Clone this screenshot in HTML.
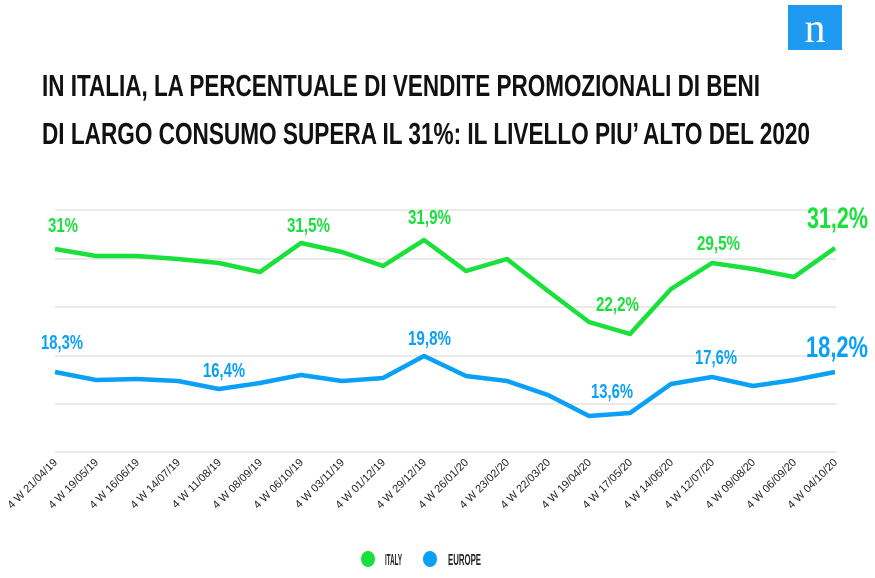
<!DOCTYPE html>
<html><head><meta charset="utf-8"><style>
html,body{margin:0;padding:0;background:#fff;}
svg{display:block;}
.t{font-family:"Liberation Sans Narrow","Liberation Sans",sans-serif;font-weight:bold;}
</style></head><body>
<svg width="875" height="578" viewBox="0 0 875 578" xmlns="http://www.w3.org/2000/svg">
<rect x="788" y="5" width="54" height="45" fill="#1e9bf0"/>
<text x="815" y="42" text-anchor="middle" font-family="Liberation Serif,serif" font-size="42" fill="#fff">n</text>
<text class="t" x="42" y="96" font-size="31" textLength="718" lengthAdjust="spacingAndGlyphs" fill="#111">IN ITALIA, LA PERCENTUALE DI VENDITE PROMOZIONALI DI BENI</text>
<text class="t" x="42" y="144" font-size="31" textLength="768" lengthAdjust="spacingAndGlyphs" fill="#111">DI LARGO CONSUMO SUPERA IL 31%: IL LIVELLO PIU’ ALTO DEL 2020</text>
<g stroke="#ddd" stroke-width="1.3">
<line x1="55" x2="836" y1="210" y2="210"/><line x1="55" x2="836" y1="259" y2="259"/>
<line x1="55" x2="836" y1="307" y2="307"/><line x1="55" x2="836" y1="356" y2="356"/>
<line x1="55" x2="836" y1="404" y2="404"/><line x1="55" x2="836" y1="452" y2="452"/>
</g>
<polyline fill="none" stroke="#19e03a" stroke-width="4.5" stroke-linejoin="round" points="55,249 96,256 137,256 178,259 219,263 260,272 301,243 342,252 383,266 424,240 466,271 507,259 548,291 589,322 630,334 671,289 712,263 753,269 794,277 835,248"/>
<polyline fill="none" stroke="#0aa0f5" stroke-width="4.5" stroke-linejoin="round" points="55,372 96,380 137,379 178,381 219,389 260,383 301,375 342,381 383,378 424,356 466,376 507,381 548,395 589,416 630,413 671,384 712,377 753,386 794,380 835,372"/>
<g class="t" fill="#19e03a" font-size="20">
<text x="48" y="232" textLength="30" lengthAdjust="spacingAndGlyphs">31%</text>
<text x="287" y="232" textLength="43" lengthAdjust="spacingAndGlyphs">31,5%</text>
<text x="408" y="224" textLength="43" lengthAdjust="spacingAndGlyphs">31,9%</text>
<text x="596" y="311" textLength="43" lengthAdjust="spacingAndGlyphs">22,2%</text>
<text x="697" y="250" textLength="43" lengthAdjust="spacingAndGlyphs">29,5%</text>
<text x="807" y="228" font-size="30" textLength="61" lengthAdjust="spacingAndGlyphs">31,2%</text></g>
<g class="t" fill="#0aa0f5" font-size="20">
<text x="41" y="349" textLength="42" lengthAdjust="spacingAndGlyphs">18,3%</text>
<text x="203" y="377" textLength="42" lengthAdjust="spacingAndGlyphs">16,4%</text>
<text x="408" y="345" textLength="43" lengthAdjust="spacingAndGlyphs">19,8%</text>
<text x="591" y="398" textLength="42" lengthAdjust="spacingAndGlyphs">13,6%</text>
<text x="695" y="364" textLength="42" lengthAdjust="spacingAndGlyphs">17,6%</text>
<text x="806" y="357" font-size="30" textLength="62" lengthAdjust="spacingAndGlyphs">18,2%</text></g>
<g font-family="Liberation Sans,sans-serif" font-size="11" fill="#222" text-anchor="end">
<text transform="translate(58,463) rotate(-45)">4 W 21/04/19</text>
<text transform="translate(99,463) rotate(-45)">4 W 19/05/19</text>
<text transform="translate(140,463) rotate(-45)">4 W 16/06/19</text>
<text transform="translate(181,463) rotate(-45)">4 W 14/07/19</text>
<text transform="translate(222,463) rotate(-45)">4 W 11/08/19</text>
<text transform="translate(263,463) rotate(-45)">4 W 08/09/19</text>
<text transform="translate(304,463) rotate(-45)">4 W 06/10/19</text>
<text transform="translate(345,463) rotate(-45)">4 W 03/11/19</text>
<text transform="translate(386,463) rotate(-45)">4 W 01/12/19</text>
<text transform="translate(427,463) rotate(-45)">4 W 29/12/19</text>
<text transform="translate(469,463) rotate(-45)">4 W 26/01/20</text>
<text transform="translate(510,463) rotate(-45)">4 W 23/02/20</text>
<text transform="translate(551,463) rotate(-45)">4 W 22/03/20</text>
<text transform="translate(592,463) rotate(-45)">4 W 19/04/20</text>
<text transform="translate(633,463) rotate(-45)">4 W 17/05/20</text>
<text transform="translate(674,463) rotate(-45)">4 W 14/06/20</text>
<text transform="translate(715,463) rotate(-45)">4 W 12/07/20</text>
<text transform="translate(756,463) rotate(-45)">4 W 09/08/20</text>
<text transform="translate(797,463) rotate(-45)">4 W 06/09/20</text>
<text transform="translate(838,463) rotate(-45)">4 W 04/10/20</text>
</g>
<ellipse cx="368" cy="559" rx="7" ry="8" fill="#19e03a"/>
<text class="t" x="385" y="565" font-size="16" fill="#222" textLength="17" lengthAdjust="spacingAndGlyphs">ITALY</text>
<ellipse cx="430" cy="559" rx="7" ry="8" fill="#0aa0f5"/>
<text class="t" x="448" y="565" font-size="16" fill="#222" textLength="33" lengthAdjust="spacingAndGlyphs">EUROPE</text>
</svg>
</body></html>
